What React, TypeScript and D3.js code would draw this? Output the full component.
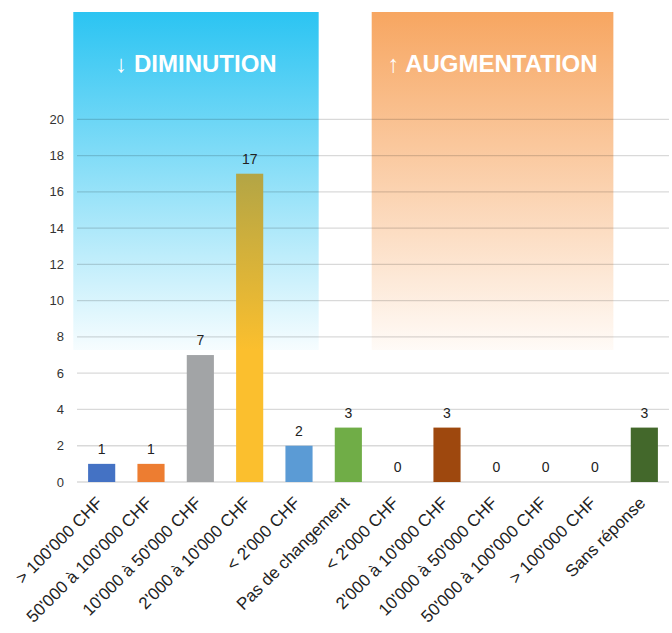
import React from "react";
import * as d3 from "d3";

const categories = [
  "> 100'000 CHF",
  "50'000 à 100'000 CHF",
  "10'000 à 50'000 CHF",
  "2'000 à 10'000 CHF",
  "< 2'000 CHF",
  "Pas de changement",
  "< 2'000 CHF",
  "2'000 à 10'000 CHF",
  "10'000 à 50'000 CHF",
  "50'000 à 100'000 CHF",
  "> 100'000 CHF",
  "Sans réponse",
];
const values = [1, 1, 7, 17, 2, 3, 0, 3, 0, 0, 0, 3];
const barColors = [
  "#4472C4", "#ED7D31", "#A2A4A6", "url(#gradYellow)", "#5B9BD5", "#70AD47",
  "#264478", "#9E480E", "#636363", "#997300", "#255E91", "#43682B",
];
const yTicks = [0, 2, 4, 6, 8, 10, 12, 14, 16, 18, 20];
const groupTitles = ["↓ DIMINUTION", "↑ AUGMENTATION"];

const W = 672;
const H = 633;
const FONT = "'Liberation Sans', Arial, sans-serif";

export default function App() {
  const x = d3
    .scaleBand<number>()
    .domain(categories.map((_, i) => i))
    .range([77, 669])
    .paddingInner(0.45)
    .paddingOuter(0.225);
  const y = d3.scaleLinear().domain([0, 20]).range([482, 119.3]);
  const step = x.step();
  const bw = x.bandwidth();
  const bandStart = (i: number) => (x(i) as number) - (step - bw) / 2;

  const boxTop = 12;
  const boxBottom = 350;
  const blueX0 = bandStart(0) - 3.7;
  const blueX1 = bandStart(4) + step - 5;
  const orX0 = bandStart(6) - 1.3;
  const orX1 = bandStart(10) + step - 6.3;

  return (
    <svg
      width={W}
      height={H}
      style={{ position: "absolute", left: 0, top: 0, background: "#fff" }}
      fontFamily={FONT}
    >
      <defs>
        <linearGradient id="gradBlue" x1="0" y1="0" x2="0" y2="1">
          <stop offset="0" stopColor="#2BC4F2" stopOpacity={1} />
          <stop offset="1" stopColor="#2BC4F2" stopOpacity={0.04} />
        </linearGradient>
        <linearGradient id="gradOrange" x1="0" y1="0" x2="0" y2="1">
          <stop offset="0" stopColor="#F7A661" stopOpacity={1} />
          <stop offset="1" stopColor="#F7A661" stopOpacity={0.05} />
        </linearGradient>
        <linearGradient
          id="gradYellow"
          gradientUnits="userSpaceOnUse"
          x1="0"
          y1={y(17)}
          x2="0"
          y2={boxBottom}
        >
          <stop offset="0" stopColor="#B3A545" />
          <stop offset="1" stopColor="#FBBF2E" />
        </linearGradient>
      </defs>

      {/* group boxes */}
      <rect x={blueX0} y={boxTop} width={blueX1 - blueX0} height={boxBottom - boxTop} fill="url(#gradBlue)" />
      <rect x={orX0} y={boxTop} width={orX1 - orX0} height={boxBottom - boxTop} fill="url(#gradOrange)" />
      <text
        x={(blueX0 + blueX1) / 2}
        y={72}
        textAnchor="middle"
        fill="#fff"
        fontWeight="bold"
        fontSize={24}
      >
        {groupTitles[0]}
      </text>
      <text
        x={(orX0 + orX1) / 2}
        y={72}
        textAnchor="middle"
        fill="#fff"
        fontWeight="bold"
        fontSize={24}
      >
        {groupTitles[1]}
      </text>

      {/* gridlines + y ticks */}
      {yTicks.map((t) => (
        <g key={t}>
          <line x1={77} x2={669} y1={y(t)} y2={y(t)} stroke="#000" strokeOpacity={0.15} strokeWidth={1.3} />
          <text x={64} y={y(t)} dy="0.35em" textAnchor="end" fontSize={13} fill="#333">
            {t}
          </text>
        </g>
      ))}

      {/* bars */}
      {values.map((v, i) => (
        <rect
          key={i}
          x={x(i)}
          y={y(v)}
          width={bw}
          height={y(0) - y(v)}
          fill={barColors[i]}
        />
      ))}

      {/* value labels */}
      {values.map((v, i) => (
        <text
          key={i}
          x={(x(i) as number) + bw / 2}
          y={y(v) - 10}
          textAnchor="middle"
          fontSize={14}
          fill="#222"
        >
          {v}
        </text>
      ))}

      {/* category labels */}
      {categories.map((c, i) => (
        <text
          key={i}
          transform={`translate(${(x(i) as number) + bw / 2 + 2},${504}) rotate(-45)`}
          textAnchor="end"
          fontSize={17}
          fill="#222"
        >
          {c}
        </text>
      ))}
    </svg>
  );
}
